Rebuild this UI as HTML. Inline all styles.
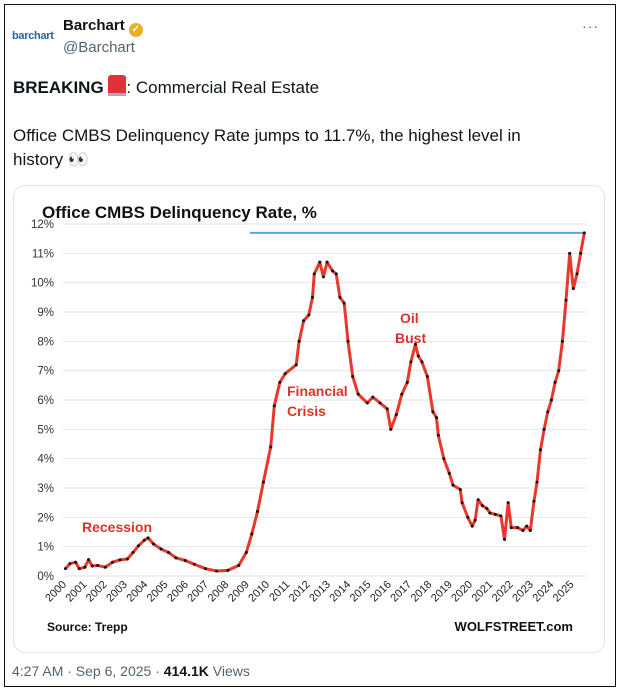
<!DOCTYPE html>
<html><head><meta charset="utf-8">
<style>
body{margin:0;width:620px;height:690px;background:#fff;font-family:"Liberation Sans",sans-serif;overflow:hidden;position:relative}
.abs{position:absolute}
</style></head><body>
<div class="abs" style="left:4px;top:4px;width:610px;height:681px;border:1px solid #111;"></div>
<div class="abs" style="left:12px;top:30px;font-size:11px;font-weight:bold;color:#2b5fa8;letter-spacing:-0.3px">barchart</div>
<div class="abs" style="left:63px;top:17px;font-size:15px;font-weight:bold;color:#0f1419">Barchart <span style="display:inline-block;width:14px;height:14px;border-radius:50%;background:#e8b02a;color:#fff;font-size:10px;text-align:center;line-height:14px;vertical-align:-2px">✓</span></div>
<div class="abs" style="left:63px;top:39px;font-size:15px;color:#536471">@Barchart</div>
<div class="abs" style="left:582px;top:18px;font-size:14px;color:#536471;letter-spacing:1px">···</div>
<div class="abs" style="left:13px;top:75px;font-size:17px;color:#0f1419"><b>BREAKING</b> <span style="display:inline-block;width:18px;height:18px;background:#e0323a;border-radius:3px 3px 0 0;vertical-align:-3px;border-bottom:3px solid #aab"></span>: Commercial Real Estate</div>
<div class="abs" style="left:13px;top:124px;width:540px;font-size:17px;line-height:24px;color:#0f1419">Office CMBS Delinquency Rate jumps to 11.7%, the highest level in history 👀</div>
<div class="abs" style="left:13px;top:185px;width:590px;height:466px;border:1px solid #e1e4e8;border-radius:12px"></div>
<svg class="abs" style="left:0;top:0" width="620" height="690">
<text x="42" y="218" font-size="17" font-weight="bold" fill="#111">Office CMBS Delinquency Rate, %</text>
<g id="grid"></g><g id="ylab"></g><g id="xlab"></g><g id="series"></g>
<text x="82" y="532" font-size="14" font-weight="bold" fill="#d9342b">Recession</text>
<text x="287" y="396" font-size="14" font-weight="bold" fill="#d9342b"><tspan x="287">Financial</tspan><tspan x="287" dy="20">Crisis</tspan></text>
<text x="400" y="323" font-size="14" font-weight="bold" fill="#d9342b"><tspan x="400">Oil</tspan><tspan x="395" dy="20">Bust</tspan></text>
<text x="47" y="631" font-size="12" font-weight="bold" fill="#111">Source: Trepp</text>
<text x="573" y="631" font-size="13" font-weight="bold" fill="#111" text-anchor="end">WOLFSTREET.com</text>
</svg>
<div class="abs" style="left:12px;top:663px;font-size:14px;color:#536471">4:27 AM · Sep 6, 2025 · <b style="color:#0f1419">414.1K</b> Views</div>
<script>
const yTicks=[0,1,2,3,4,5,6,7,8,9,10,11,12];
const xYears=[2000,2001,2002,2003,2004,2005,2006,2007,2008,2009,2010,2011,2012,2013,2014,2015,2016,2017,2018,2019,2020,2021,2022,2023,2024,2025];
const dates=[0.12,0.34,0.62,0.8,1.08,1.26,1.44,1.71,2.08,2.44,2.81,3.17,3.45,3.72,4.0,4.19,4.46,4.83,5.2,5.56,6.02,6.47,7.02,7.57,8.12,8.66,9.03,9.3,9.58,9.87,10.23,10.41,10.68,10.95,11.49,11.63,11.85,12.11,12.29,12.38,12.65,12.83,13.01,13.28,13.46,13.64,13.85,14.04,14.27,14.54,14.99,15.26,15.62,15.97,16.15,16.42,16.69,16.96,17.14,17.36,17.5,17.68,17.95,18.22,18.4,18.49,18.76,19.03,19.21,19.57,19.66,19.94,20.16,20.3,20.45,20.66,20.88,21.03,21.3,21.57,21.75,21.93,22.08,22.39,22.66,22.84,23.02,23.2,23.35,23.52,23.7,23.88,24.06,24.24,24.42,24.6,24.78,24.96,25.14,25.32,25.5,25.68];
const rates=[0.25,0.42,0.47,0.25,0.3,0.56,0.34,0.36,0.3,0.47,0.55,0.58,0.8,1.03,1.22,1.3,1.09,0.92,0.8,0.62,0.53,0.4,0.25,0.17,0.19,0.36,0.8,1.43,2.2,3.2,4.4,5.8,6.6,6.9,7.2,8.0,8.7,8.9,9.5,10.3,10.7,10.2,10.7,10.4,10.3,9.5,9.3,8.0,6.8,6.2,5.9,6.1,5.9,5.7,5.0,5.5,6.2,6.6,7.3,7.9,7.5,7.3,6.8,5.6,5.4,4.8,4.0,3.5,3.1,2.95,2.5,2.0,1.7,1.9,2.6,2.4,2.3,2.15,2.1,2.05,1.25,2.5,1.65,1.65,1.55,1.7,1.55,2.55,3.2,4.3,5.0,5.6,6.0,6.6,7.0,8.0,9.4,11.0,9.8,10.3,11.0,11.7];
const highLevel=[9.2,11.7];
const NS='http://www.w3.org/2000/svg';
const X=t=>63+t*20.3, Y=v=>576-v*29.33;
function mk(tag,attrs,parent){const e=document.createElementNS(NS,tag);for(const k in attrs)e.setAttribute(k,attrs[k]);document.getElementById(parent).appendChild(e);return e;}
yTicks.forEach(v=>{
  const g=mk('line',{x1:63,x2:587,y1:Y(v),y2:Y(v),stroke:'#e3e3e3','stroke-width':1},'grid');
  
  
  const t=mk('text',{x:54,y:Y(v)+4,'font-size':11.5,'text-anchor':'end',fill:'#333'},'ylab');
  t.textContent=v+'%';
  
  
});
xYears.forEach(yr=>{
  const x=X(yr-2000)+4;
  const t=mk('text',{x:x,y:585,'font-size':11,'text-anchor':'end',fill:'#222',transform:`rotate(-45 ${x} 585)`},'xlab');
  t.textContent=yr;
  
  
});
const hl=mk('line',{x1:X(highLevel[0]),x2:X(25.68),y1:Y(highLevel[1]),y2:Y(highLevel[1]),stroke:'#5aa7d6','stroke-width':2},'series');


const pts=dates.map((d,i)=>X(d).toFixed(1)+','+Y(rates[i]).toFixed(1)).join(' ');
const pl=mk('polyline',{points:pts,fill:'none',stroke:'#e8382c','stroke-width':3,'stroke-linejoin':'round'},'series');


dates.forEach((d,i)=>{
  const c=mk('circle',{cx:X(d),cy:Y(rates[i]),r:1.5,fill:'#111'},'series');
  
  
});
</script>
</body></html>
